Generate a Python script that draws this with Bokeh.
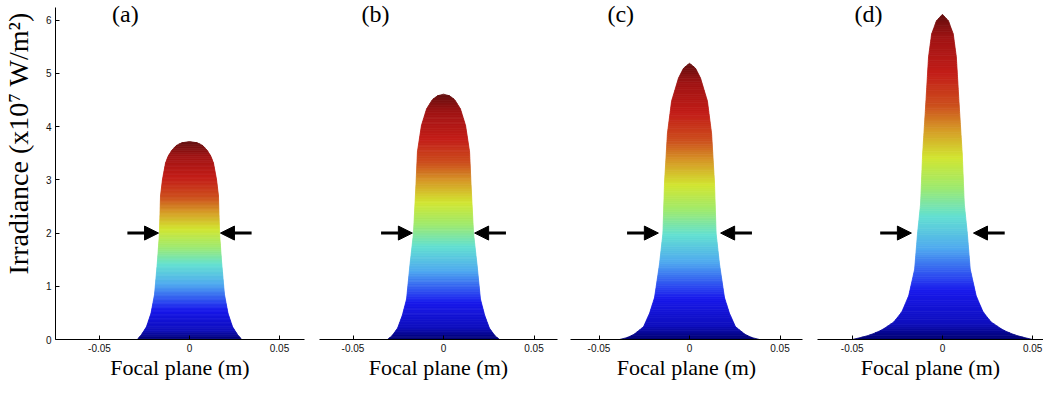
import numpy as np
from bokeh.plotting import figure
from bokeh.layouts import row
from bokeh.models import Range1d, FixedTicker, Arrow, NormalHead
from bokeh.embed import file_html
from bokeh.resources import INLINE
from bokeh.core.properties import value

# ---------------- data ----------------
PANEL_NAMES = ["(a)", "(b)", "(c)", "(d)"]

# irradiance levels (x1e7 W/m^2) and the half-width (m) of the profile at each level
LEVELS_A = [0.0, 0.09, 0.24, 0.49, 0.85, 1.47, 1.99, 2.70, 3.01, 3.32, 3.45, 3.56, 3.65, 3.70, 3.72]
HALFW_A = [0.0290, 0.0267, 0.0239, 0.0214, 0.0194, 0.0178, 0.0167, 0.0161, 0.0150, 0.0133, 0.0118, 0.0097, 0.0072, 0.0040, 0.0]

LEVELS_B = [0.0, 0.06, 0.21, 0.46, 0.76, 1.38, 1.99, 2.92, 3.53, 4.02, 4.33, 4.51, 4.58, 4.61]
HALFW_B = [0.0310, 0.0287, 0.0254, 0.0227, 0.0204, 0.0186, 0.0166, 0.0152, 0.0144, 0.0122, 0.0094, 0.0061, 0.0033, 0.0]

LEVELS_C = [0.0, 0.03, 0.09, 0.24, 0.49, 0.79, 1.41, 1.99, 2.95, 3.87, 4.48, 4.91, 5.10, 5.19]
HALFW_C = [0.0387, 0.0350, 0.0309, 0.0254, 0.0221, 0.0193, 0.0166, 0.0147, 0.0138, 0.0122, 0.0099, 0.0061, 0.0033, 0.0]

LEVELS_D = [0.0, 0.02, 0.09, 0.18, 0.33, 0.52, 0.82, 1.32, 1.99, 2.55, 3.47, 4.39, 5.31, 5.74, 5.99, 6.11]
HALFW_D = [0.0500, 0.0470, 0.0396, 0.0335, 0.0269, 0.0225, 0.0187, 0.0154, 0.0138, 0.0121, 0.0110, 0.0093, 0.0077, 0.0060, 0.0033, 0.0]

X_TICKS = [-0.05, 0, 0.05]
X_TICK_LABELS = ["-0.05", "0", "0.05"]
Y_TICKS = [0, 1, 2, 3, 4, 5, 6]
Y_AXIS_TOP = 6.24

ARROW_LEVEL = 2.0
ARROW_TIP = 0.0172
ARROW_TAIL = 0.0345

X_LABEL = "Focal plane (m)"
Y_LABEL = "Irradiance (x10\u2077 W/m\u00b2)"

# ---------------- layout / style ----------------
H = 382
BOTTOM = 39
Y_MAX = 6.37
PANELS = [
    # levels, half-widths, x-range, width, border left, border right, title x
    (LEVELS_A, HALFW_A, (-0.07444, 0.06389), 271, 15, 7, -0.0356),
    (LEVELS_B, HALFW_B, (-0.06851, 0.06298), 252, 8, 6, -0.0376),
    (LEVELS_C, HALFW_C, (-0.06575, 0.06243), 246, 7, 7, -0.0380),
    (LEVELS_D, HALFW_D, (-0.06923, 0.05600), 234, 8, 0, -0.0410),
]
SERIF = "Liberation Serif"
SANS = "Liberation Sans"

# shaded jet-like colour map (stop position, r, g, b)
CMAP_STOPS = [
    (0.00, 0, 0, 110),
    (0.05, 15, 15, 190),
    (0.15, 25, 25, 235),
    (0.18, 40, 60, 240),
    (0.28, 80, 170, 240),
    (0.38, 100, 225, 210),
    (0.47, 160, 235, 110),
    (0.56, 210, 230, 50),
    (0.64, 215, 160, 40),
    (0.72, 205, 80, 30),
    (0.82, 195, 30, 25),
    (0.93, 160, 20, 20),
    (1.00, 100, 15, 15),
]
_sp = [s[0] for s in CMAP_STOPS]


def cmap(v):
    r = np.interp(v, _sp, [s[1] for s in CMAP_STOPS])
    g = np.interp(v, _sp, [s[2] for s in CMAP_STOPS])
    b = np.interp(v, _sp, [s[3] for s in CMAP_STOPS])
    return "#%02x%02x%02x" % (int(r), int(g), int(b))


# strip on the far left carrying the rotated y-axis title
lab = figure(width=40, height=H, x_range=Range1d(0, 40), y_range=Range1d(0, H),
             output_backend="svg", toolbar_location=None,
             min_border_left=0, min_border_right=0, min_border_top=0, min_border_bottom=0)
lab.axis.visible = False
lab.grid.visible = False
lab.outline_line_color = None
lab.text(x=[18], y=[H - 161], text=[Y_LABEL], angle=np.pi / 2, text_font=value(SERIF),
         text_font_size="28px", text_align="center", text_baseline="middle", text_color="black")

figs = [lab]
for i, (levels, halfw, xr, w, bl, br, tx) in enumerate(PANELS):
    p = figure(width=w, height=H, x_range=Range1d(*xr), y_range=Range1d(0, Y_MAX),
               output_backend="svg", toolbar_location=None,
               min_border_left=bl, min_border_right=br, min_border_top=0, min_border_bottom=BOTTOM)
    p.outline_line_color = None
    p.grid.visible = False

    # gradient fill: horizontal bands coloured by level / peak
    peak = levels[-1]
    lv = np.linspace(0, peak, 150)
    hw = np.interp(lv, levels, halfw)
    xs, ys, cs = [], [], []
    for k in range(len(lv) - 1):
        xs.append([-hw[k], hw[k], hw[k + 1], -hw[k + 1]])
        ys.append([lv[k], lv[k], lv[k + 1], lv[k + 1]])
        cs.append(cmap((lv[k] + lv[k + 1]) / 2 / peak))
    p.patches(xs, ys, fill_color=cs, line_color=cs, line_width=0.8)

    # arrows
    for sgn in (-1, 1):
        p.add_layout(Arrow(x_start=sgn * ARROW_TAIL, y_start=ARROW_LEVEL,
                           x_end=sgn * ARROW_TIP, y_end=ARROW_LEVEL,
                           line_width=3, line_color="black",
                           end=NormalHead(size=14, fill_color="black", line_color="black")))

    # panel title
    p.text(x=[tx], y=[6.11], text=[PANEL_NAMES[i]], text_font=value(SERIF),
           text_font_size="24px", text_align="center", text_baseline="middle", text_color="black")

    # x axis
    xa = p.xaxis[0]
    xa.ticker = FixedTicker(ticks=X_TICKS)
    xa.major_label_overrides = dict(zip(X_TICKS, X_TICK_LABELS))
    xa.major_tick_in = 4
    xa.major_tick_out = 0
    xa.minor_tick_in = 0
    xa.minor_tick_out = 0
    xa.major_label_standoff = 4
    xa.major_label_text_font = SANS
    xa.major_label_text_font_size = "10px"
    xa.major_label_text_color = "#111111"
    xa.axis_line_color = "black"
    xa.major_tick_line_color = "black"
    xa.axis_label = X_LABEL
    xa.axis_label_text_font = SERIF
    xa.axis_label_text_font_size = "22px"
    xa.axis_label_text_font_style = "normal"
    xa.axis_label_text_color = "black"
    xa.axis_label_standoff = 0

    ya = p.yaxis[0]
    if i == 0:
        ya.ticker = FixedTicker(ticks=Y_TICKS)
        ya.bounds = (0, Y_AXIS_TOP)
        ya.major_tick_in = 4
        ya.major_tick_out = 0
        ya.minor_tick_in = 0
        ya.minor_tick_out = 0
        ya.major_label_standoff = 4
        ya.major_label_text_font = SANS
        ya.major_label_text_font_size = "10px"
        ya.major_label_text_color = "#111111"
        ya.axis_line_color = "black"
        ya.major_tick_line_color = "black"
    else:
        ya.visible = False
    figs.append(p)

layout = row(*figs)
open("out.html", "w").write(file_html(layout, INLINE))
